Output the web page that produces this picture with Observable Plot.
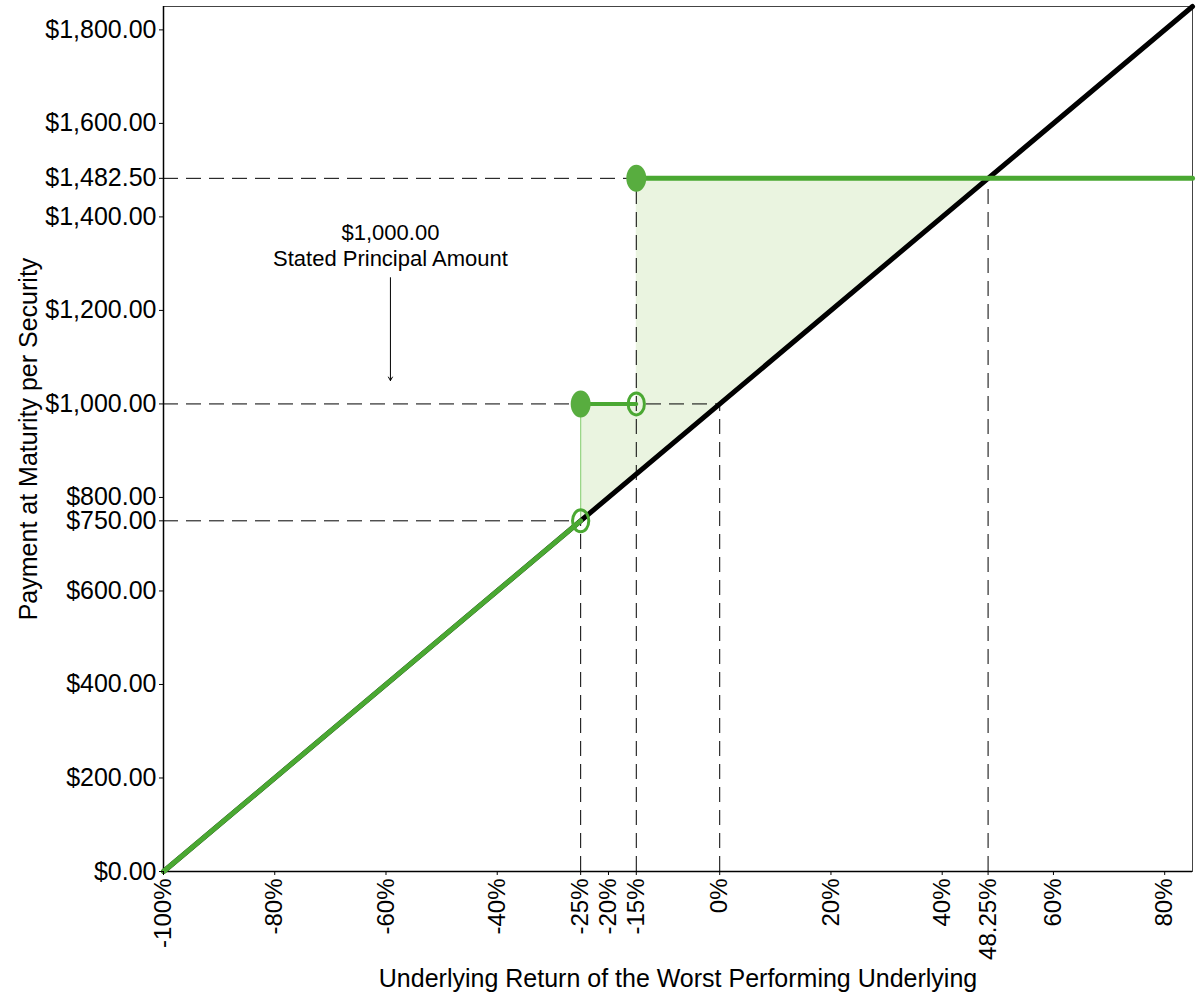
<!DOCTYPE html>
<html>
<head>
<meta charset="utf-8">
<script src="https://cdn.jsdelivr.net/npm/d3@7"></script>
<script src="https://cdn.jsdelivr.net/npm/@observablehq/plot@0.6"></script>
<style>
  html, body { margin: 0; padding: 0; background: #fff; }
  #chart { width: 1200px; height: 1000px; }
</style>
</head>
<body>
<div id="chart"></div>
<script>
// ---- data ----
const xTicks = [-100, -80, -60, -40, -25, -20, -15, 0, 20, 40, 48.25, 60, 80];
const yTicks = [0, 200, 400, 600, 750, 800, 1000, 1200, 1400, 1482.5, 1600, 1800];

const xTitle = "Underlying Return of the Worst Performing Underlying";
const yTitle = "Payment at Maturity per Security";

// underlying return (%) vs payment for a direct investment
const underlyingX = [-100, 85];
const underlyingY = [0, 1850];

// security payoff segments
const seg1X = [-100, -25], seg1Y = [0, 750];
const seg2X = [-25, -15], seg2Y = [1000, 1000];
const seg3X = [-15, 85], seg3Y = [1482.5, 1482.5];

// shaded outperformance region
const shadeX = [-25, -15, -15, 48.25];
const shadeLow = [750, 850, 850, 1482.5];
const shadeHigh = [1000, 1000, 1482.5, 1482.5];

// dashed guides
const hGuideY = [1482.5, 1000, 750];
const hGuideXEnd = [48.25, 0, -25];
const vGuideX = [-25, -15, 0, 48.25];
const vGuideYEnd = [750, 1482.5, 1000, 1482.5];

// thin connector at -25%
const connX = [-25], connY1 = [750], connY2 = [1000];

// endpoints
const closedX = [-25, -15], closedY = [1000, 1482.5];
const openX = [-15, -25], openY = [1000, 750];

// annotation
const noteText = "$1,000.00\nStated Principal Amount";
const noteX = -59.2, noteY = 1341;
const arrowY1 = 1270, arrowY2 = 1050;

// ---- build tables ----
const line = (xs, ys) => xs.map((x, i) => ({x, y: ys[i]}));
const shade = shadeX.map((x, i) => ({x, y1: shadeLow[i], y2: shadeHigh[i]}));
const hGuides = hGuideY.map((y, i) => ({x1: -100, x2: hGuideXEnd[i], y}));
const vGuides = vGuideX.map((x, i) => ({x, y1: 0, y2: vGuideYEnd[i]}));
const closed = line(closedX, closedY);
const open = line(openX, openY);

const ellipse = {
  draw(ctx, size) {
    const r = Math.sqrt(size / Math.PI), rx = r * 0.74, ry = r, k = 0.5522847;
    ctx.moveTo(rx, 0);
    ctx.bezierCurveTo(rx, ry * k, rx * k, ry, 0, ry);
    ctx.bezierCurveTo(-rx * k, ry, -rx, ry * k, -rx, 0);
    ctx.bezierCurveTo(-rx, -ry * k, -rx * k, -ry, 0, -ry);
    ctx.bezierCurveTo(rx * k, -ry, rx, -ry * k, rx, 0);
    ctx.closePath();
  }
};

const green = "#4aa832";
const dash = "15,8";

const chart = Plot.plot({
  width: 1200,
  height: 1000,
  marginLeft: 163,
  marginRight: 8,
  marginTop: 6,
  marginBottom: 129,
  style: {fontFamily: "'Liberation Sans', Arial, sans-serif", fontSize: "24px", color: "#000", background: "#fff"},
  x: {domain: [-100, 85]},
  y: {domain: [0, 1850]},
  marks: [
    Plot.areaY(shade, {x: "x", y1: "y1", y2: "y2", fill: "#eaf4e0", curve: "linear"}),
    Plot.ruleX(connX.map((x, i) => ({x, y1: connY1[i], y2: connY2[i]})), {x: "x", y1: "y1", y2: "y2", stroke: "#96d483", strokeWidth: 1.2}),
    Plot.ruleY(hGuides, {y: "y", x1: "x1", x2: "x2", stroke: "#000", strokeWidth: 1, strokeDasharray: dash}),
    Plot.ruleX(vGuides, {x: "x", y1: "y1", y2: "y2", stroke: "#000", strokeWidth: 1, strokeDasharray: dash}),
    Plot.frame({stroke: "#444", strokeWidth: 1}),
    Plot.ruleY([0], {stroke: "#000", strokeWidth: 1.5}),
    Plot.ruleX([-100], {stroke: "#000", strokeWidth: 1.5}),
    Plot.line(line(underlyingX, underlyingY), {x: "x", y: "y", stroke: "#000", strokeWidth: 5}),
    Plot.line(line(seg1X, seg1Y), {x: "x", y: "y", stroke: green, strokeWidth: 5}),
    Plot.line(line(seg2X, seg2Y), {x: "x", y: "y", stroke: green, strokeWidth: 4}),
    Plot.line(line(seg3X, seg3Y), {x: "x", y: "y", stroke: green, strokeWidth: 5}),
    Plot.dot(open, {x: "x", y: "y", r: 11, symbol: ellipse, fill: "none", stroke: green, strokeWidth: 3}),
    Plot.dot(closed, {x: "x", y: "y", r: 13.5, symbol: ellipse, fill: "#58ad3f", stroke: "none"}),
    Plot.text([noteText], {x: noteX, y: noteY, text: d => d, fontSize: 22, lineHeight: 1.2, fill: "#000"}),
    Plot.arrow([{x: noteX, y1: arrowY1, y2: arrowY2}], {x1: "x", x2: "x", y1: "y1", y2: "y2", stroke: "#000", strokeWidth: 1, headLength: 6}),
    Plot.axisX({ticks: xTicks, tickFormat: d => `${d}%`, tickRotate: -90, tickSize: 4, tickPadding: 3, fontSize: 24, label: null}),
    Plot.axisY({ticks: yTicks, tickFormat: d => "$" + d3.format(",.2f")(d), tickSize: 4, tickPadding: 3, fontSize: 25, label: null}),
    Plot.text([xTitle], {frameAnchor: "bottom", dy: 107, text: d => d, fontSize: 25, fill: "#000", lineAnchor: "middle"}),
    Plot.text([yTitle], {frameAnchor: "left", dx: -135, rotate: -90, textAnchor: "middle", text: d => d, fontSize: 25, fill: "#000", lineAnchor: "middle"})
  ]
});
document.getElementById("chart").appendChild(chart);
</script>
</body>
</html>
